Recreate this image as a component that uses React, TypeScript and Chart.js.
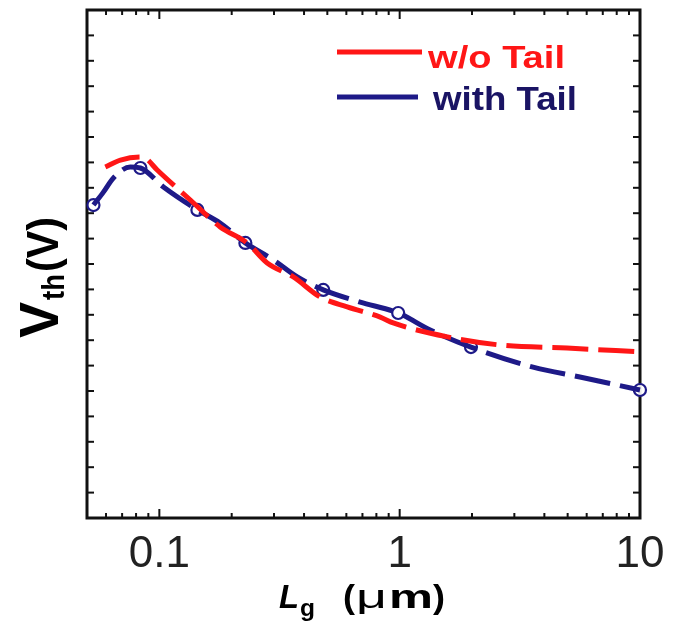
import React, { useEffect, useRef } from 'react';
import { Chart, registerables } from 'chart.js';

Chart.register(...registerables);

// ---- data ----
const woTailL = [0.0596, 0.0689, 0.0834, 0.0875, 0.098, 0.1346, 0.179, 0.232, 0.281, 0.361, 0.467, 0.605, 0.83, 0.94, 1.58, 2.62, 4.97, 10];
const woTailV = [13.82, 14.09, 14.21, 14.17, 13.7, 12.52, 11.46, 10.83, 10.04, 9.49, 8.7, 8.31, 7.91, 7.68, 7.13, 6.81, 6.69, 6.54];

const withTailL = [0.0532, 0.0585, 0.0644, 0.0757, 0.0834, 0.104, 0.144, 0.179, 0.228, 0.298, 0.375, 0.481, 0.685, 0.986, 1.34, 1.98, 3.59, 5.62, 10];
const withTailV = [12.32, 12.83, 13.39, 13.82, 13.78, 13.03, 12.13, 11.61, 10.83, 10.16, 9.49, 8.98, 8.5, 8.07, 7.4, 6.73, 5.94, 5.55, 5.04];

const markerL = [0.0532, 0.0834, 0.144, 0.228, 0.481, 0.986, 1.98, 10];
const markerV = [12.32, 13.78, 12.13, 10.83, 8.98, 8.07, 6.73, 5.04];

const xTickValues = [0.1, 1, 10];
const xTickLabels = ['0.1', '1', '10'];
const xMinorTicks = [0.05, 0.06, 0.07, 0.08, 0.09, 0.2, 0.3, 0.4, 0.5, 0.6, 0.7, 0.8, 0.9, 2, 3, 4, 5, 6, 7, 8, 9];
const yTicks = Array.from({ length: 21 }, (_, i) => i);

const seriesNames = ['w/o Tail', 'with Tail'];

const RED = 'rgb(255,22,22)';
const BLUE = 'rgb(30,26,136)';
const BLUE_TEXT = 'rgb(26,20,100)';
const FONT = '"Liberation Sans", Arial, Helvetica, sans-serif';

function fitText(ctx: CanvasRenderingContext2D, s: string, x: number, y: number, font: string, w: number) {
  ctx.save();
  ctx.font = font;
  const m = ctx.measureText(s).width;
  ctx.translate(x, y);
  ctx.scale(w / m, 1);
  ctx.textBaseline = 'alphabetic';
  ctx.textAlign = 'left';
  ctx.fillText(s, 0, 0);
  ctx.restore();
}

const framePlugin = {
  id: 'frame',
  beforeDatasetsDraw(chart: any) {
    const { ctx, chartArea: a, scales } = chart;
    const xs = scales.x, ys = scales.y;
    ctx.save();
    ctx.strokeStyle = '#111';
    ctx.lineWidth = 2;
    const tick = (x1: number, y1: number, x2: number, y2: number) => {
      ctx.beginPath();
      ctx.moveTo(x1, y1);
      ctx.lineTo(x2, y2);
      ctx.stroke();
    };
    xMinorTicks.forEach((v) => {
      const px = xs.getPixelForValue(v);
      tick(px, a.bottom, px, a.bottom - 5);
      tick(px, a.top, px, a.top + 5);
    });
    xTickValues.forEach((v) => {
      const px = xs.getPixelForValue(v);
      tick(px, a.bottom, px, a.bottom - 9);
      tick(px, a.top, px, a.top + 9);
    });
    yTicks.forEach((v) => {
      const py = ys.getPixelForValue(v);
      tick(a.left, py, a.left + 7, py);
      tick(a.right, py, a.right - 7, py);
    });
    ctx.lineWidth = 3;
    ctx.strokeRect(a.left, a.top, a.right - a.left, a.bottom - a.top);
    ctx.restore();
  },
  afterDraw(chart: any) {
    const { ctx } = chart;
    ctx.save();
    // legend
    ctx.lineWidth = 5;
    ctx.strokeStyle = RED;
    ctx.beginPath();
    ctx.moveTo(337, 52);
    ctx.lineTo(422, 52);
    ctx.stroke();
    ctx.strokeStyle = BLUE;
    ctx.beginPath();
    ctx.moveTo(337, 97);
    ctx.lineTo(418, 97);
    ctx.stroke();
    ctx.fillStyle = RED;
    fitText(ctx, seriesNames[0], 428, 68, `bold 32px ${FONT}`, 137);
    ctx.fillStyle = BLUE_TEXT;
    fitText(ctx, seriesNames[1], 433, 110, `bold 33px ${FONT}`, 144);

    // x title: L_g (μm)
    ctx.fillStyle = '#000';
    fitText(ctx, 'L', 279, 608, `italic bold 33px ${FONT}`, 20);
    fitText(ctx, 'g', 300, 616, `bold 24px ${FONT}`, 15);
    fitText(ctx, '(', 343, 608, `bold 34px ${FONT}`, 12);
    fitText(ctx, 'μ', 356, 608, `34px ${FONT}`, 31);
    fitText(ctx, 'm', 389, 608, `bold 34px ${FONT}`, 44);
    fitText(ctx, ')', 433, 608, `bold 34px ${FONT}`, 12);

    // y title: V_th (V)
    ctx.translate(58, 338);
    ctx.rotate(-Math.PI / 2);
    fitText(ctx, 'V', 0, 0, `bold 56px ${FONT}`, 36);
    fitText(ctx, 'th', 38, 6, `bold 32px ${FONT}`, 26);
    fitText(ctx, '(V)', 66, 0, `bold 44px ${FONT}`, 55);
    ctx.restore();
  },
};

export default function App() {
  const ref = useRef<HTMLCanvasElement | null>(null);
  useEffect(() => {
    if (!ref.current) return;
    const toXY = (xs: number[], ys: number[]) => xs.map((x, i) => ({ x, y: ys[i] }));
    const chart = new Chart(ref.current, {
      type: 'line',
      data: {
        datasets: [
          {
            label: seriesNames[0],
            data: toXY(woTailL, woTailV),
            borderColor: RED,
            borderWidth: 5,
            borderDash: [36, 10],
            pointRadius: 0,
            cubicInterpolationMode: 'monotone',
            fill: false,
            clip: false,
          },
          {
            label: seriesNames[1],
            data: toXY(withTailL, withTailV),
            borderColor: BLUE,
            borderWidth: 5,
            borderDash: [36, 10],
            pointRadius: 0,
            cubicInterpolationMode: 'monotone',
            fill: false,
            clip: false,
          },
          {
            label: seriesNames[1] + ' points',
            data: toXY(markerL, markerV),
            showLine: false,
            pointRadius: 6,
            pointBorderWidth: 2.2,
            pointBorderColor: BLUE,
            pointBackgroundColor: 'rgba(255,255,255,0.9)',
            clip: false,
          },
        ],
      } as any,
      options: {
        animation: false,
        responsive: false,
        maintainAspectRatio: false,
        layout: { padding: { left: 87, top: 10, right: 34, bottom: 0 } },
        plugins: { legend: { display: false }, tooltip: { enabled: false } },
        scales: {
          x: {
            type: 'logarithmic',
            min: 0.05,
            max: 10,
            grid: { display: false },
            border: { display: false },
            afterBuildTicks: (s: any) => {
              s.ticks = xTickValues.map((v) => ({ value: v }));
            },
            afterFit: (s: any) => {
              s.height = 110;
            },
            ticks: {
              autoSkip: false,
              maxRotation: 0,
              minRotation: 0,
              padding: 2,
              color: '#222',
              font: { family: FONT, size: 44 },
              callback: (v: any) => {
                const i = xTickValues.findIndex((t) => Math.abs(t - Number(v)) < 1e-9);
                return i >= 0 ? xTickLabels[i] : '';
              },
            },
          },
          y: { type: 'linear', display: false, min: 0, max: 20 },
        },
      } as any,
      plugins: [framePlugin],
    });
    return () => chart.destroy();
  }, []);
  return (
    <div style={{ position: 'absolute', left: 0, top: 0, width: 674, height: 628, background: '#fff' }}>
      <canvas ref={ref} width={674} height={628} style={{ width: 674, height: 628, display: 'block' }} />
    </div>
  );
}
